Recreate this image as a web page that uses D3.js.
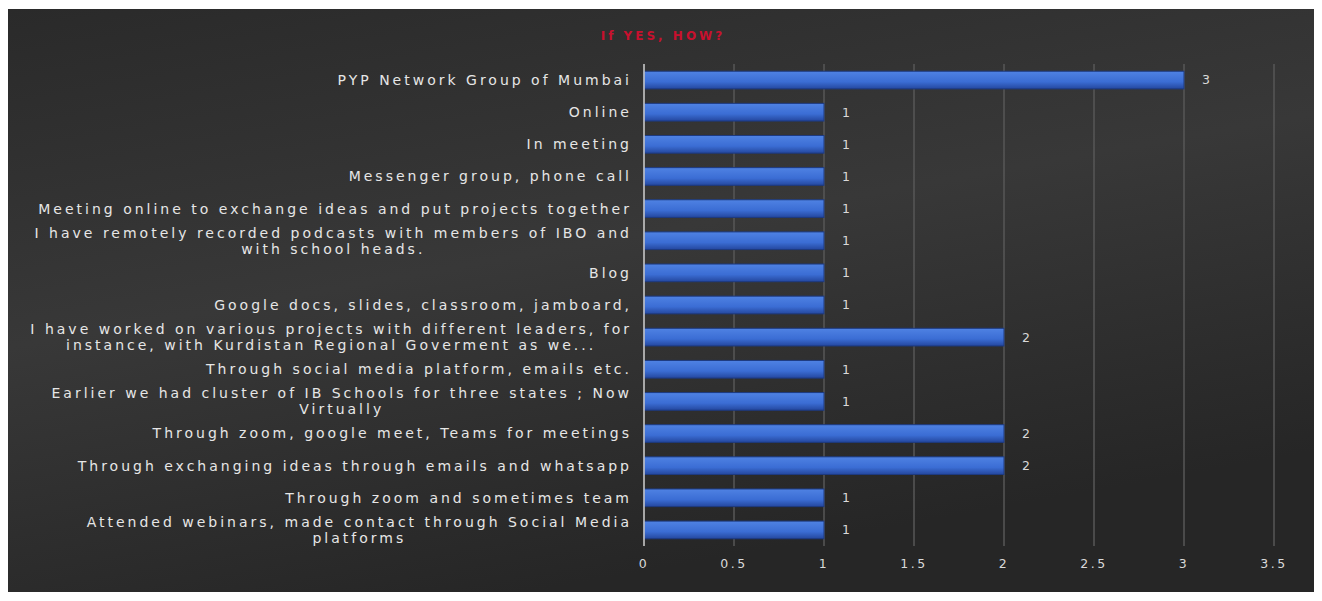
<!DOCTYPE html>
<html>
<head>
<meta charset="utf-8">
<script src="https://cdn.jsdelivr.net/npm/d3@7"></script>
<style>
  body { margin: 0; background: #fff; }
  text { font-family: "DejaVu Sans", sans-serif; }
</style>
</head>
<body>
<script>
var categories = [
    'PYP Network Group of Mumbai',
    'Online',
    'In meeting',
    'Messenger group, phone call',
    'Meeting online to exchange ideas and put projects together',
    'I have remotely recorded podcasts with members of IBO and\nwith school heads.',
    'Blog',
    'Google docs, slides, classroom, jamboard,',
    'I have worked on various projects with different leaders, for\ninstance, with Kurdistan Regional Goverment as we...',
    'Through social media platform, emails etc.',
    'Earlier we had cluster of IB Schools for three states ; Now\nVirtually',
    'Through zoom, google meet, Teams for meetings',
    'Through exchanging ideas through emails and whatsapp',
    'Through zoom and sometimes team',
    'Attended webinars, made contact through Social Media\nplatforms'
];
var counts = [3, 1, 1, 1, 1, 1, 1, 1, 2, 1, 1, 2, 2, 1, 1];
var xTicks = [0, 0.5, 1, 1.5, 2, 2.5, 3, 3.5];
var title = 'If YES, HOW?';

var W = 1322, H = 601;
var margin = {left: 644, right: 48, top: 64, bottom: 55};

var svg = d3.select('body').append('svg').attr('width', W).attr('height', H);

var defs = svg.append('defs');
var bg = defs.append('linearGradient').attr('id', 'bg')
    .attr('x1', '0').attr('y1', '0').attr('x2', '0.4').attr('y2', '1');
bg.append('stop').attr('offset', '0').attr('stop-color', '#2a2a2a');
bg.append('stop').attr('offset', '0.5').attr('stop-color', '#383838');
bg.append('stop').attr('offset', '1').attr('stop-color', '#262626');

var barGrad = defs.append('linearGradient').attr('id', 'barg')
    .attr('x1', '0').attr('y1', '0').attr('x2', '0').attr('y2', '1');
barGrad.append('stop').attr('offset', '0').attr('stop-color', '#4f82e3');
barGrad.append('stop').attr('offset', '0.6').attr('stop-color', '#3b6dd4');
barGrad.append('stop').attr('offset', '1').attr('stop-color', '#24479e');

svg.append('rect').attr('x', 8).attr('y', 9).attr('width', 1306).attr('height', 583)
    .attr('fill', 'url(#bg)');

svg.append('text').attr('x', 663).attr('y', 40).attr('text-anchor', 'middle')
    .attr('fill', '#c8102e').attr('font-size', 12).attr('font-weight', 'bold')
    .attr('letter-spacing', 3)
    .text(title);

var x = d3.scaleLinear().domain([0, 3.5]).range([margin.left, W - margin.right]);
var y = d3.scaleBand().domain(categories).range([margin.top, H - margin.bottom])
    .paddingInner(0.45).paddingOuter(0.225);

// grid
svg.append('g').selectAll('line').data(xTicks.slice(1)).enter().append('line')
    .attr('x1', function(d){ return x(d); }).attr('x2', function(d){ return x(d); })
    .attr('y1', margin.top).attr('y2', H - margin.bottom)
    .attr('stroke', '#575757').attr('stroke-width', 1.5);

// bars
svg.append('g').selectAll('rect').data(categories).enter().append('rect')
    .attr('x', x(0))
    .attr('y', function(d){ return y(d); })
    .attr('width', function(d, i){ return x(counts[i]) - x(0); })
    .attr('height', y.bandwidth())
    .attr('fill', 'url(#barg)')
    .attr('stroke', '#1d3a80').attr('stroke-width', 1);

// axis line
svg.append('line').attr('x1', x(0)).attr('x2', x(0))
    .attr('y1', margin.top).attr('y2', H - margin.bottom)
    .attr('stroke', '#d0d0d0').attr('stroke-width', 1.5);

// value labels
svg.append('g').selectAll('text').data(categories).enter().append('text')
    .attr('x', function(d, i){ return x(counts[i]) + 18; })
    .attr('y', function(d){ return y(d) + y.bandwidth() / 2; })
    .attr('dy', '0.35em')
    .attr('fill', '#d9d9d9').attr('font-size', 12.5)
    .text(function(d, i){ return counts[i]; });

// x tick labels
svg.append('g').selectAll('text').data(xTicks).enter().append('text')
    .attr('x', function(d){ return x(d); })
    .attr('y', H - margin.bottom + 22)
    .attr('text-anchor', 'middle')
    .attr('fill', '#d9d9d9').attr('font-size', 12.5).attr('letter-spacing', 2.5)
    .text(function(d){ return d; });

// category labels, right aligned block, lines centered within it
var labelRight = 632;
var lg = svg.append('g');
categories.forEach(function(c){
    var lines = c.split('\n');
    var cy = y(c) + y.bandwidth() / 2;
    var t = lg.append('text')
        .attr('fill', '#e6e6e6').attr('font-size', 14).attr('letter-spacing', 3)
        .attr('text-anchor', 'middle');
    var spans = lines.map(function(l, i){
        return t.append('tspan').attr('x', 0)
            .attr('y', cy + (i - (lines.length - 1) / 2) * 16)
            .attr('dy', '0.35em').text(l);
    });
    var maxW = d3.max(spans, function(s){ return s.node().getComputedTextLength(); });
    spans.forEach(function(s){ s.attr('x', labelRight - maxW / 2); });
});
</script>
</body>
</html>
